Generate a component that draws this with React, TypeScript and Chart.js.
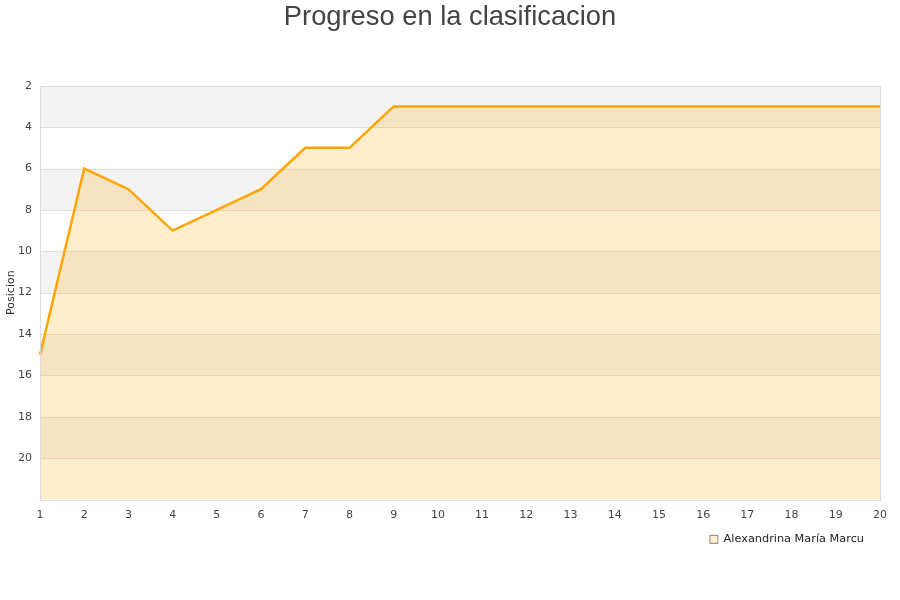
import React, { useEffect, useRef } from "react";
import { Chart, registerables } from "chart.js";

Chart.register(...registerables);

const jornadas: string[] = ["1","2","3","4","5","6","7","8","9","10","11","12","13","14","15","16","17","18","19","20"];
const posiciones: number[] = [15, 6, 7, 9, 8, 7, 5, 5, 3, 3, 3, 3, 3, 3, 3, 3, 3, 3, 3, 3];
const bandas: [number, number][] = [[2, 4], [6, 8], [10, 12], [14, 16], [18, 20]];
const jugador = "Alexandrina María Marcu";

const bandPlugin = {
  id: "bands",
  afterLayout(chart: any) {
    if (chart.legend) {
      chart.legend.left -= 13;
      chart.legend.right -= 13;
    }
    if (chart.titleBlock) {
      chart.titleBlock.left += 10;
      chart.titleBlock.right += 10;
    }
  },
  beforeDatasetsDraw(chart: any) {
    const { ctx, chartArea, scales } = chart;
    const y = scales.y;
    ctx.save();
    ctx.fillStyle = "#f3f3f3";
    for (const [a, b] of bandas) {
      const p1 = y.getPixelForValue(a);
      const p2 = y.getPixelForValue(b);
      ctx.fillRect(chartArea.left, Math.min(p1, p2), chartArea.right - chartArea.left, Math.abs(p2 - p1));
    }
    ctx.strokeStyle = "#e0e0e0";
    ctx.lineWidth = 1;
    for (let v = 2; v <= 22; v += 2) {
      const p = Math.round(y.getPixelForValue(v)) + 0.5;
      ctx.beginPath();
      ctx.moveTo(chartArea.left, p);
      ctx.lineTo(chartArea.right, p);
      ctx.stroke();
    }
    ctx.restore();
  },
  afterDatasetsDraw(chart: any) {
    const { ctx, chartArea } = chart;
    ctx.save();
    ctx.strokeStyle = "#dcdcdc";
    ctx.lineWidth = 1;
    ctx.strokeRect(Math.round(chartArea.left) + 0.5, Math.round(chartArea.top) + 0.5, Math.round(chartArea.right - chartArea.left), Math.round(chartArea.bottom - chartArea.top));
    ctx.restore();
  },
};

export default function App() {
  const ref = useRef<HTMLCanvasElement | null>(null);
  useEffect(() => {
    if (!ref.current) return;
    const chart = new Chart(ref.current, {
      type: "line",
      data: {
        labels: jornadas,
        datasets: [
          {
            label: jugador,
            data: posiciones,
            borderColor: "#ffa500",
            backgroundColor: "rgba(255,165,0,0.2)",
            borderWidth: 2.5,
            pointRadius: 0,
            tension: 0,
            fill: "start",
          },
        ],
      },
      plugins: [bandPlugin],
      options: {
        animation: false,
        responsive: false,
        maintainAspectRatio: false,
        layout: { padding: { left: 0, right: 20, top: 0, bottom: 45 } },
        plugins: {
          title: {
            display: true,
            text: "Progreso en la clasificacion",
            color: "#444",
            font: { family: "'Liberation Sans', Arial, sans-serif", size: 27.3, weight: "normal" },
            padding: { top: 1, bottom: 52 },
          },
          legend: {
            position: "bottom",
            align: "end",
            labels: {
              boxWidth: 8,
              boxHeight: 8,
              padding: 3,
              color: "#222",
              font: { family: "'DejaVu Sans', sans-serif", size: 11.3 },
              generateLabels: (c: any) =>
                c.data.datasets.map((d: any, i: number) => ({
                  text: d.label,
                  fillStyle: "rgba(255,165,0,0.2)",
                  strokeStyle: "#888",
                  lineWidth: 1,
                  datasetIndex: i,
                  hidden: false,
                  fontColor: "#222",
                })),
            },
          },
          tooltip: { enabled: false },
        },
        scales: {
          x: {
            type: "category",
            offset: false,
            grid: { display: false, drawTicks: false },
            border: { display: false },
            ticks: {
              color: "#444",
              padding: 9,
              maxRotation: 0,
              autoSkip: false,
              font: { family: "'DejaVu Sans', sans-serif", size: 11 },
            },
          },
          y: {
            reverse: true,
            min: 2,
            max: 22,
            grid: { display: false, drawTicks: false },
            border: { display: false },
            afterFit: (s: any) => {
              s.width = 40;
            },
            title: {
              display: true,
              text: "Posicion",
              color: "#333",
              padding: { top: 5, bottom: 0 },
              font: { family: "'DejaVu Sans', sans-serif", size: 11 },
            },
            ticks: {
              stepSize: 2,
              color: "#444",
              padding: 8,
              font: { family: "'DejaVu Sans', sans-serif", size: 11 },
              callback: (v: any) => (v === 22 ? "" : String(v)),
            },
          },
        },
      },
    });
    return () => chart.destroy();
  }, []);
  return (
    <div style={{ position: "fixed", left: 0, top: 0, width: 900, height: 600, background: "#fff" }}>
      <canvas ref={ref} width={900} height={600} style={{ width: 900, height: 600 }} />
    </div>
  );
}
